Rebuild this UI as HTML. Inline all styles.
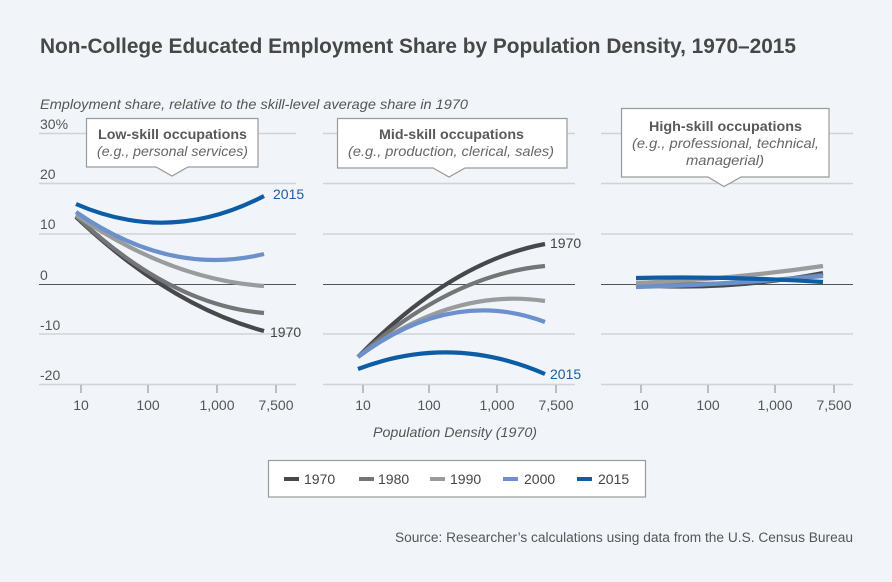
<!DOCTYPE html>
<html>
<head>
<meta charset="utf-8">
<style>
  html, body { margin: 0; padding: 0; background: #f1f5f9; }
  svg { display: block; }
  text { font-family: "Liberation Sans", "DejaVu Sans", sans-serif; }
</style>
</head>
<body>
<svg width="892" height="582" viewBox="0 0 892 582" xmlns="http://www.w3.org/2000/svg">
  <rect x="0" y="0" width="892" height="582" fill="#f1f5f9"/>

  <!-- Title -->
  <text x="40" y="53" font-size="21" font-weight="bold" fill="#474747" textLength="756" lengthAdjust="spacingAndGlyphs">Non-College Educated Employment Share by Population Density, 1970–2015</text>
  <!-- Subtitle -->
  <text x="40" y="109" font-size="14" font-style="italic" fill="#555" textLength="428" lengthAdjust="spacingAndGlyphs">Employment share, relative to the skill-level average share in 1970</text>

  <!-- Gridlines -->
  <g stroke="#cfd3d8" stroke-width="1.5" fill="none">
    <path d="M39,133.5H296 M323,133.5H575 M601,133.5H853"/>
    <path d="M39,183.5H296 M323,183.5H575 M601,183.5H853"/>
    <path d="M39,234H296 M323,234H575 M601,234H853"/>
    <path d="M39,334H296 M323,334H575 M601,334H853"/>
    <path d="M39,384.5H296 M323,384.5H575 M601,384.5H853"/>
  </g>
  <!-- zero lines -->
  <g stroke="#555" stroke-width="1" fill="none">
    <path d="M39,284.5H296 M323,284.5H575 M601,284.5H853"/>
  </g>
  <!-- ticks -->
  <g stroke="#999" stroke-width="1.2" fill="none">
    <path d="M81,385V393 M148,385V393 M217,385V393 M276,385V393"/>
    <path d="M363,385V393 M429,385V393 M497,385V393 M556,385V393"/>
    <path d="M641,385V393 M708,385V393 M775,385V393 M834,385V393"/>
  </g>

  <!-- Y labels -->
  <g font-size="14" fill="#555">
    <text x="40" y="129">30%</text>
    <text x="40" y="179">20</text>
    <text x="40" y="229">10</text>
    <text x="40" y="280">0</text>
    <text x="40" y="330">-10</text>
    <text x="40" y="380">-20</text>
  </g>

  <!-- X tick labels -->
  <g font-size="14" fill="#555" text-anchor="middle">
    <text x="81" y="410">10</text>
    <text x="148" y="410">100</text>
    <text x="217" y="410">1,000</text>
    <text x="276" y="410">7,500</text>
    <text x="363" y="410">10</text>
    <text x="429" y="410">100</text>
    <text x="497" y="410">1,000</text>
    <text x="556" y="410">7,500</text>
    <text x="641" y="410">10</text>
    <text x="708" y="410">100</text>
    <text x="775" y="410">1,000</text>
    <text x="834" y="410">7,500</text>
  </g>
  <text x="455" y="437" font-size="14" font-style="italic" fill="#555" text-anchor="middle" textLength="164" lengthAdjust="spacingAndGlyphs">Population Density (1970)</text>

  <!-- Curves panel 1 -->
  <g fill="none" stroke-width="4.2" stroke-linecap="butt">
    <path d="M76,217 Q170,306 264,331" stroke="#47484b"/>
    <path d="M76,216 Q170,305 264,313" stroke="#747576"/>
    <path d="M76,215 Q170,279.5 264,286" stroke="#9a9b9d"/>
    <path d="M76,212 Q170,277 264,254" stroke="#6c90cb"/>
    <path d="M76,204 Q170,245 264,196" stroke="#0c5ca6"/>
  </g>
  <!-- Curves panel 2 -->
  <g fill="none" stroke-width="4.2" stroke-linecap="butt">
    <path d="M358,357 Q451.5,261.5 545,244" stroke="#47484b"/>
    <path d="M358,357 Q451.5,274.5 545,266" stroke="#747576"/>
    <path d="M358,357 Q451.5,287 545,301" stroke="#9a9b9d"/>
    <path d="M358,357 Q451.5,287 545,322" stroke="#6c90cb"/>
    <path d="M358,369 Q451.5,333.5 545,374" stroke="#0c5ca6"/>
  </g>
  <!-- Curves panel 3 -->
  <g fill="none" stroke-width="4.2" stroke-linecap="butt">
    <path d="M636,285 Q729.5,291 823,273" stroke="#47484b"/>
    <path d="M636,284 Q729.5,286.5 823,275" stroke="#747576"/>
    <path d="M636,283 Q729.5,279.5 823,266" stroke="#9a9b9d"/>
    <path d="M636,287 Q729.5,284.5 823,276" stroke="#6c90cb"/>
    <path d="M636,278 Q729.5,276 823,282" stroke="#0c5ca6"/>
  </g>

  <!-- Curve labels -->
  <g font-size="14">
    <text x="273" y="199" fill="#1a5ea6">2015</text>
    <text x="270" y="337" fill="#444">1970</text>
    <text x="550" y="248" fill="#444">1970</text>
    <text x="550" y="379" fill="#1a5ea6">2015</text>
  </g>

  <!-- Annotation boxes -->
  <g fill="#ffffff" stroke="#9a9a9a" stroke-width="1.2">
    <path d="M86.5,118.5 H258 V167 H188 L172,176 L156,167 H86.5 Z"/>
    <path d="M337.5,118.5 H567 V168 H465 L449,177 L433,168 H337.5 Z"/>
    <path d="M621.5,108.5 H829 V177 H741 L724,186.5 L708,177 H621.5 Z"/>
  </g>
  <g fill="#555" text-anchor="middle" font-size="14">
    <text x="172.5" y="139" font-weight="bold" fill="#595959" textLength="149" lengthAdjust="spacingAndGlyphs">Low-skill occupations</text>
    <text x="172.5" y="156" font-style="italic" fill="#666" textLength="151" lengthAdjust="spacingAndGlyphs">(e.g., personal services)</text>
    <text x="451.5" y="139" font-weight="bold" fill="#595959" textLength="145" lengthAdjust="spacingAndGlyphs">Mid-skill occupations</text>
    <text x="451" y="156" font-style="italic" fill="#666" textLength="206" lengthAdjust="spacingAndGlyphs">(e.g., production, clerical, sales)</text>
    <text x="725.5" y="131" font-weight="bold" fill="#595959" textLength="153" lengthAdjust="spacingAndGlyphs">High-skill occupations</text>
    <text x="725.5" y="148" font-style="italic" fill="#666" textLength="187" lengthAdjust="spacingAndGlyphs">(e.g., professional, technical,</text>
    <text x="725" y="165" font-style="italic" fill="#666" textLength="78" lengthAdjust="spacingAndGlyphs">managerial)</text>
  </g>

  <!-- Legend -->
  <rect x="268.5" y="460.5" width="377" height="36.5" fill="#ffffff" stroke="#9a9a9a" stroke-width="1.2"/>
  <g>
    <rect x="284" y="477" width="15" height="4" fill="#47484b"/>
    <rect x="359" y="477" width="15" height="4" fill="#747576"/>
    <rect x="430" y="477" width="15" height="4" fill="#9a9b9d"/>
    <rect x="503" y="477" width="15" height="4" fill="#6c90cb"/>
    <rect x="577" y="477" width="15" height="4" fill="#0c5ca6"/>
  </g>
  <g font-size="14" fill="#444">
    <text x="304" y="484">1970</text>
    <text x="378" y="484">1980</text>
    <text x="450" y="484">1990</text>
    <text x="524" y="484">2000</text>
    <text x="598" y="484">2015</text>
  </g>

  <!-- Source -->
  <text x="395" y="542" font-size="13.5" fill="#555" textLength="458" lengthAdjust="spacingAndGlyphs">Source: Researcher’s calculations using data from the U.S. Census Bureau</text>
</svg>
</body>
</html>
